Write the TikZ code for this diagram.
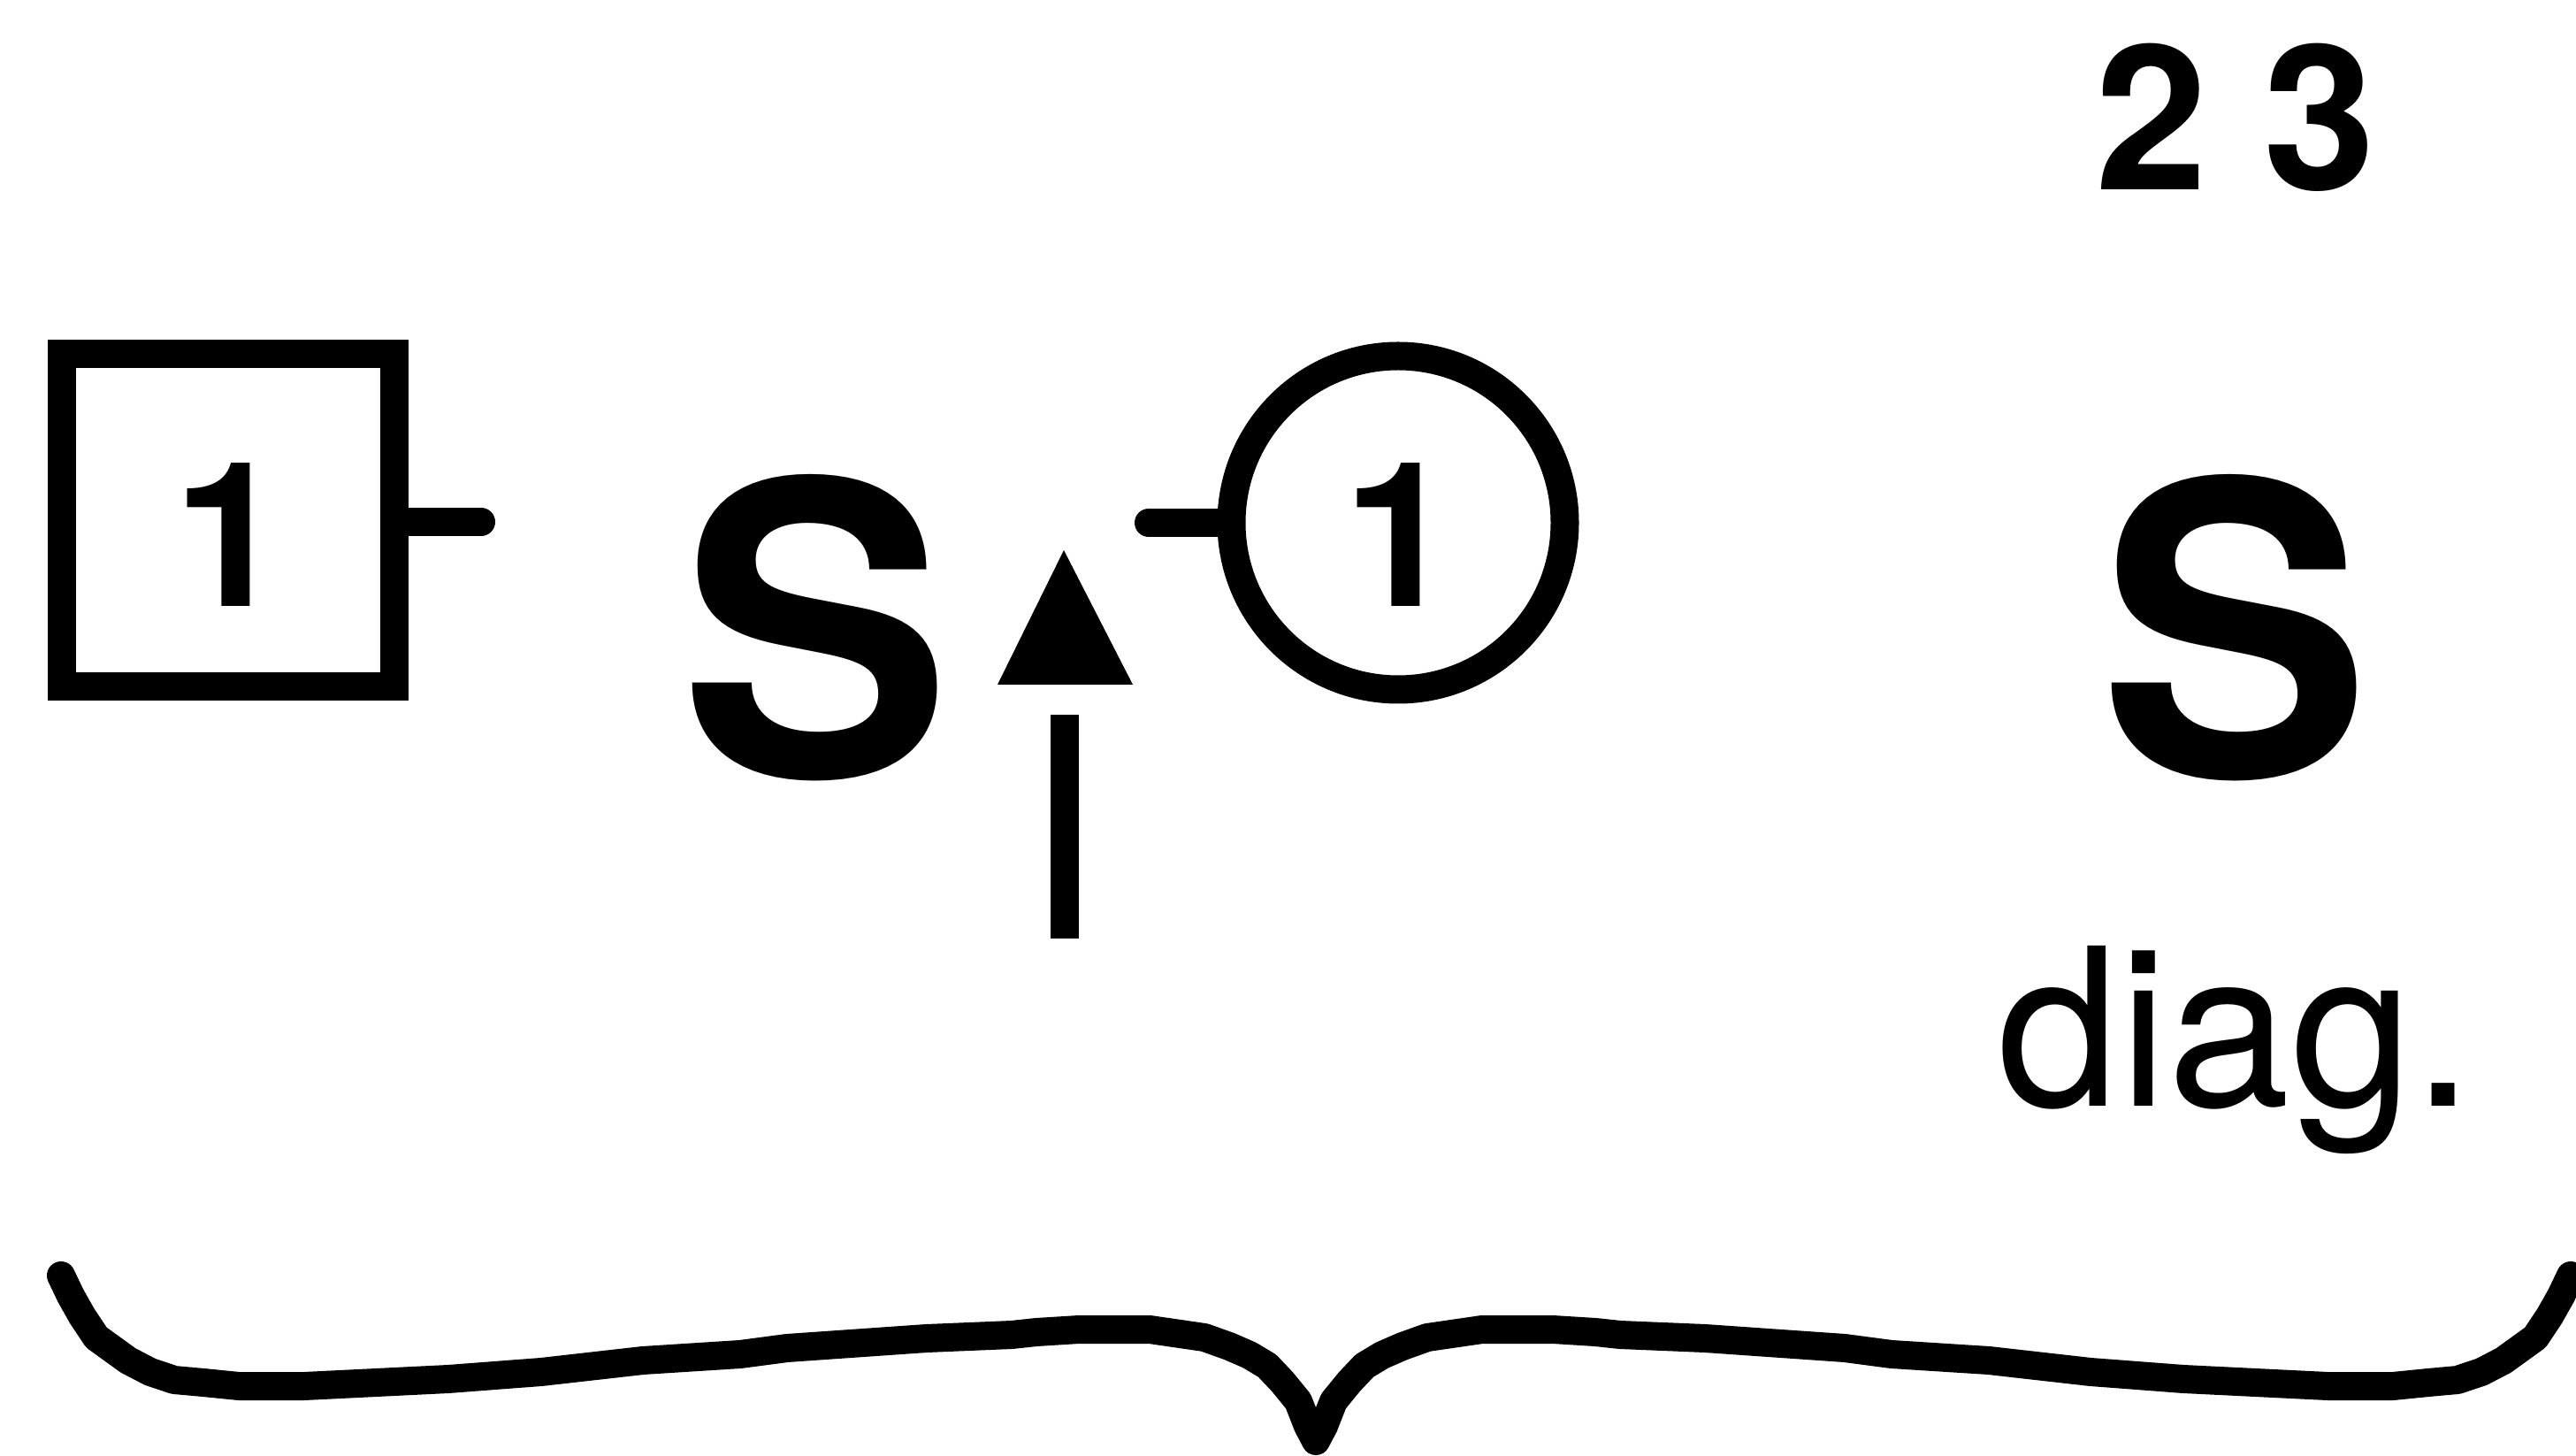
\documentclass[tikz,border=0pt]{standalone}
\usepackage{fontspec}
\setmainfont{TeX Gyre Heros}
\tikzset{
  partline/.style={line width=0.32cm},
  partbox/.style={draw,partline,rectangle,inner sep=0pt,minimum size=3.76cm},
  partcirc/.style={draw,partline,circle,inner sep=0pt,minimum size=3.77cm},
  numlabel/.style={anchor=base,inner sep=0pt,font=\fontsize{65}{70}\selectfont\bfseries},
  biglabel/.style={anchor=base,inner sep=0pt,font=\fontsize{131}{140}\selectfont\bfseries},
  notelabel/.style={anchor=base,inner sep=0pt,font=\fontsize{70.7}{75}\selectfont}
}
\begin{document}
\begin{tikzpicture}[x=1cm,y=1cm]
\path[use as bounding box] (0,0) rectangle (29.13,16.45);
% left part
\node[partbox] (boxA) at (2.58,10.57) {};
\node[numlabel] (numA) at (2.60,9.59) {1};
\coordinate (stubA) at (5.44,10.55);
\draw[partline,line cap=round] (boxA.east |- stubA) -- (stubA);
\node[biglabel] (sA) at (9.22,7.67) {S};
% marker
\fill (12.03,10.23) -- (12.81,8.71) -- (11.28,8.71) -- cycle;
\coordinate (markT) at (12.035,8.37);
\coordinate (markB) at (12.035,5.84);
\draw[partline] (markT) -- (markB);
% right part
\node[partcirc] (circB) at (15.81,10.54) {};
\node[numlabel] (numB) at (15.83,9.59) {1};
\coordinate (stubB) at (12.99,10.54);
\draw[partline,line cap=round] (stubB) -- (circB.west);
\node[numlabel] (top) at (25.28,14.30) {2 3};
\node[biglabel] (sB) at (25.27,7.67) {S};
\node[notelabel] (note) at (25.28,3.95) {diag.};
% brace
\draw[partline,line cap=round,line join=round]
  (0.69,2.03) -- (0.80,1.80) -- (0.93,1.57) -- (1.09,1.33) -- (1.45,1.07) -- (1.70,0.94) -- (1.97,0.85)
  -- (2.30,0.82) -- (2.70,0.78) -- (3.44,0.78) -- (5.07,0.86) -- (6.12,0.94) -- (7.27,1.07) -- (8.37,1.14)
  -- (8.90,1.21) -- (10.48,1.32) -- (11.44,1.36) -- (11.72,1.39) -- (12.20,1.42) -- (13.00,1.42)
  -- (13.62,1.33) -- (13.90,1.23) -- (14.13,1.13) -- (14.33,1.01) -- (14.50,0.83) -- (14.68,0.61)
  -- (14.79,0.33) -- (14.88,0.16)
  -- (14.97,0.33) -- (15.08,0.61) -- (15.26,0.83) -- (15.43,1.01) -- (15.63,1.13) -- (15.86,1.23)
  -- (16.14,1.33) -- (16.76,1.42) -- (17.56,1.42) -- (18.04,1.39) -- (18.32,1.36) -- (19.28,1.32)
  -- (20.86,1.21) -- (21.39,1.14) -- (22.49,1.07) -- (23.64,0.94) -- (24.69,0.86) -- (26.32,0.78)
  -- (27.06,0.78) -- (27.46,0.82) -- (27.79,0.85) -- (28.06,0.94) -- (28.31,1.07) -- (28.67,1.33)
  -- (28.83,1.57) -- (28.96,1.80) -- (29.07,2.03);
\end{tikzpicture}
\end{document}
